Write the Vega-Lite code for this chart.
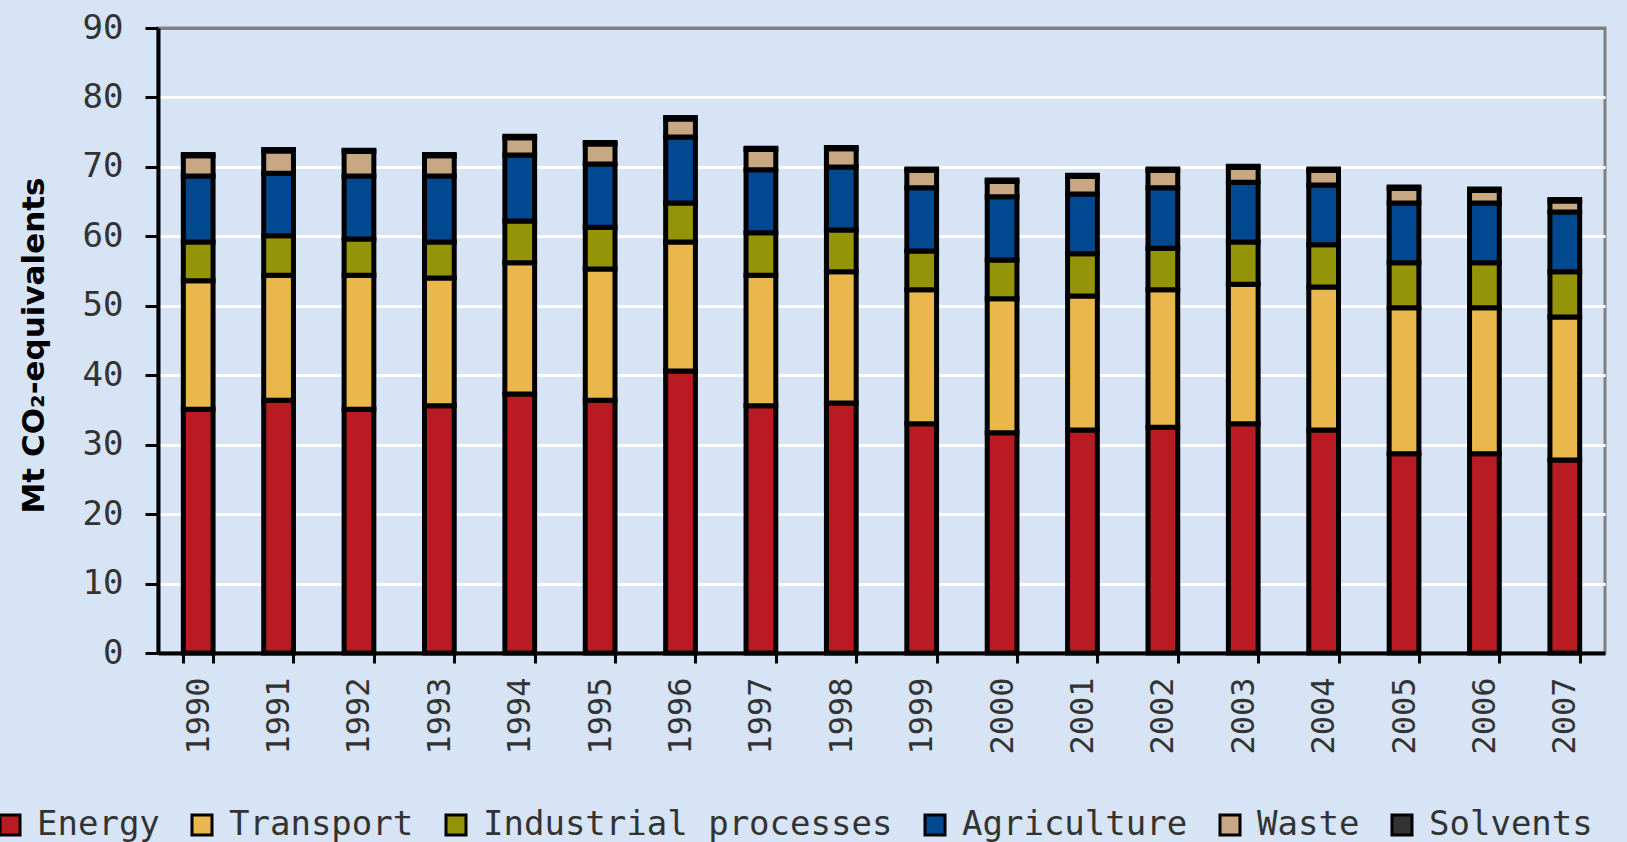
{
  "$schema": "https://vega.github.io/schema/vega-lite/v6.json",
  "autosize": {"type": "none"},
  "width": 1447,
  "height": 625,
  "padding": {"left": 158, "top": 28, "right": 22, "bottom": 189},
  "background": "#d6e4f6",
  "datasets": {
    "sectors": [
      {"sector": "Energy", "rank": 1},
      {"sector": "Transport", "rank": 2},
      {"sector": "Industrial processes", "rank": 3},
      {"sector": "Agriculture", "rank": 4},
      {"sector": "Waste", "rank": 5},
      {"sector": "Solvents", "rank": 6}
    ]
  },
  "data": {
    "values": [
      {"year": "1990", "Energy": 35.1, "Transport": 18.5, "Industrial processes": 5.6, "Agriculture": 9.5, "Waste": 2.9, "Solvents": 0.2},
      {"year": "1991", "Energy": 36.4, "Transport": 18.0, "Industrial processes": 5.7, "Agriculture": 9.0, "Waste": 3.2, "Solvents": 0.2},
      {"year": "1992", "Energy": 35.1, "Transport": 19.3, "Industrial processes": 5.2, "Agriculture": 9.1, "Waste": 3.5, "Solvents": 0.2},
      {"year": "1993", "Energy": 35.6, "Transport": 18.4, "Industrial processes": 5.2, "Agriculture": 9.5, "Waste": 2.9, "Solvents": 0.2},
      {"year": "1994", "Energy": 37.3, "Transport": 18.9, "Industrial processes": 6.0, "Agriculture": 9.5, "Waste": 2.5, "Solvents": 0.2},
      {"year": "1995", "Energy": 36.4, "Transport": 18.9, "Industrial processes": 6.0, "Agriculture": 9.1, "Waste": 2.9, "Solvents": 0.2},
      {"year": "1996", "Energy": 40.6, "Transport": 18.6, "Industrial processes": 5.6, "Agriculture": 9.5, "Waste": 2.6, "Solvents": 0.2},
      {"year": "1997", "Energy": 35.6, "Transport": 18.8, "Industrial processes": 6.1, "Agriculture": 9.1, "Waste": 2.9, "Solvents": 0.2},
      {"year": "1998", "Energy": 36.0, "Transport": 18.9, "Industrial processes": 6.0, "Agriculture": 9.1, "Waste": 2.6, "Solvents": 0.2},
      {"year": "1999", "Energy": 33.0, "Transport": 19.3, "Industrial processes": 5.6, "Agriculture": 9.1, "Waste": 2.5, "Solvents": 0.2},
      {"year": "2000", "Energy": 31.7, "Transport": 19.3, "Industrial processes": 5.6, "Agriculture": 9.1, "Waste": 2.2, "Solvents": 0.2},
      {"year": "2001", "Energy": 32.1, "Transport": 19.3, "Industrial processes": 6.1, "Agriculture": 8.6, "Waste": 2.5, "Solvents": 0.2},
      {"year": "2002", "Energy": 32.5, "Transport": 19.8, "Industrial processes": 6.0, "Agriculture": 8.7, "Waste": 2.5, "Solvents": 0.2},
      {"year": "2003", "Energy": 33.0, "Transport": 20.1, "Industrial processes": 6.1, "Agriculture": 8.6, "Waste": 2.1, "Solvents": 0.2},
      {"year": "2004", "Energy": 32.1, "Transport": 20.6, "Industrial processes": 6.1, "Agriculture": 8.6, "Waste": 2.1, "Solvents": 0.2},
      {"year": "2005", "Energy": 28.7, "Transport": 21.0, "Industrial processes": 6.5, "Agriculture": 8.6, "Waste": 2.1, "Solvents": 0.2},
      {"year": "2006", "Energy": 28.7, "Transport": 21.0, "Industrial processes": 6.5, "Agriculture": 8.6, "Waste": 1.8, "Solvents": 0.2},
      {"year": "2007", "Energy": 27.8, "Transport": 20.6, "Industrial processes": 6.5, "Agriculture": 8.6, "Waste": 1.6, "Solvents": 0.2}
    ]
  },
  "transform": [
    {"fold": ["Energy", "Transport", "Industrial processes", "Agriculture", "Waste", "Solvents"], "as": ["sector", "value"]},
    {"lookup": "sector", "from": {"data": {"name": "sectors"}, "key": "sector", "fields": ["rank"]}}
  ],
  "mark": {"type": "bar", "stroke": "black", "strokeWidth": 5},
  "encoding": {
    "x": {
      "field": "year",
      "type": "ordinal",
      "scale": {"paddingInner": 0.63, "paddingOuter": 0.315},
      "axis": {
        "title": null,
        "labelAngle": -90,
        "labelAlign": "right",
        "labelBaseline": "middle",
        "labelFont": "DejaVu Sans Mono",
        "labelFontSize": 32,
        "labelColor": "#333333",
        "labelPadding": 14,
        "tickBand": "extent",
        "tickSize": 10,
        "tickWidth": 3,
        "tickColor": "black",
        "domainColor": "black",
        "domainWidth": 4,
        "grid": false
      }
    },
    "y": {
      "field": "value",
      "type": "quantitative",
      "stack": "zero",
      "scale": {"domain": [0, 90], "nice": false},
      "axis": {
        "title": "Mt CO₂-equivalents",
        "titleFont": "DejaVu Sans",
        "titleFontWeight": "bold",
        "titleFontSize": 31,
        "titleColor": "black",
        "titleAngle": -90,
        "titleX": -124,
        "titleY": 317,
        "titleAlign": "center",
        "titleBaseline": "middle",
        "values": [0, 10, 20, 30, 40, 50, 60, 70, 80, 90],
        "labelFont": "DejaVu Sans Mono",
        "labelFontSize": 34,
        "labelColor": "#333333",
        "labelPadding": 22,
        "tickSize": 13,
        "tickWidth": 3,
        "tickColor": "black",
        "domainColor": "black",
        "domainWidth": 4,
        "grid": true,
        "gridWidth": 3,
        "gridColor": {"condition": {"test": "datum.value === 90", "value": "#808080"}, "value": "white"},
        "gridOpacity": 1
      }
    },
    "color": {
      "field": "sector",
      "type": "nominal",
      "sort": ["Energy", "Transport", "Industrial processes", "Agriculture", "Waste", "Solvents"],
      "scale": {
        "domain": ["Energy", "Transport", "Industrial processes", "Agriculture", "Waste", "Solvents"],
        "range": ["#b81c22", "#e9b74c", "#949409", "#004990", "#c8a882", "#333333"]
      },
      "legend": {
        "title": null,
        "orient": "none",
        "direction": "horizontal",
        "legendX": -165,
        "legendY": 780,
        "padding": 0,
        "symbolType": "square",
        "symbolSize": 400,
        "symbolStrokeColor": "black",
        "symbolStrokeWidth": 3,
        "symbolOpacity": 1,
        "labelFont": "DejaVu Sans Mono",
        "labelFontSize": 34,
        "labelColor": "#333333",
        "labelOffset": 10,
        "labelLimit": 0,
        "columnPadding": 25
      }
    },
    "order": {"field": "rank", "type": "quantitative", "sort": "ascending"}
  },
  "config": {
    "view": {"stroke": "#808080", "strokeWidth": 3, "fill": null}
  }
}
